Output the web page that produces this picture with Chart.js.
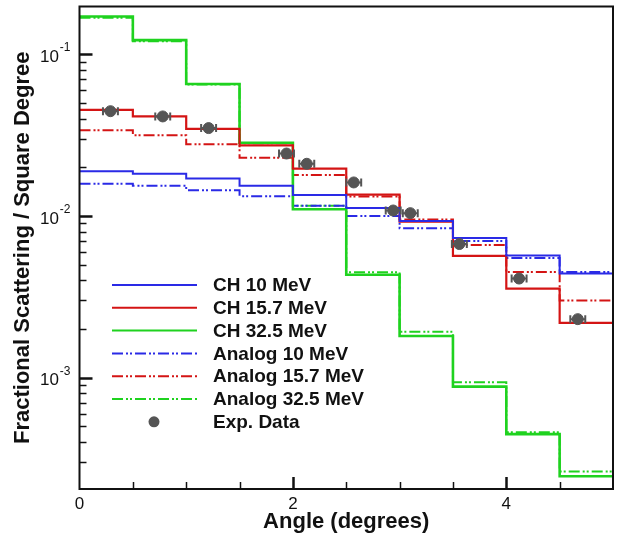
<!DOCTYPE html>
<html>
<head>
<meta charset="utf-8">
<script src="https://cdn.jsdelivr.net/npm/chart.js@4.4.0/dist/chart.umd.min.js"></script>
<style>
  html, body { margin: 0; padding: 0; background: #fff; }
  canvas { display: block; }
</style>
</head>
<body>
<canvas id="scatChart" width="623" height="537"></canvas>
<script>
// bin edges (degrees), values are per bin
var binEdges = [0, 0.5, 1, 1.5, 2, 2.5, 3, 3.5, 4, 4.5, 5];

var ch10   = [0.0189, 0.0182, 0.0170, 0.01535, 0.01345, 0.0112, 0.0093, 0.0073, 0.0057, 0.0044];
var ch157  = [0.0452, 0.0412, 0.0345, 0.0273, 0.0196, 0.01355, 0.0092, 0.00566, 0.00355, 0.00218];
var ch325  = [0.171, 0.122, 0.0654, 0.0283, 0.0110, 0.00433, 0.00181, 0.00088, 0.000448, 0.000246];
var an10   = [0.0158, 0.01535, 0.0144, 0.01325, 0.01156, 0.0100, 0.0084, 0.0070, 0.0055, 0.0045];
var an157  = [0.0338, 0.0315, 0.0277, 0.0229, 0.0179, 0.0132, 0.0095, 0.0066, 0.0045, 0.0030];
var an325  = [0.168, 0.120, 0.0648, 0.0281, 0.01156, 0.00449, 0.00192, 0.000937, 0.000459, 0.000263];

var expAngle = [0.29, 0.78, 1.21, 1.94, 2.13, 2.57, 2.94, 3.10, 3.56, 4.12, 4.67];
var expValue = [0.0444, 0.0412, 0.0349, 0.0243, 0.0210, 0.0161, 0.0108, 0.0104, 0.0067, 0.0041, 0.0023];
var expErr   = [0.07, 0.07, 0.07, 0.07, 0.07, 0.07, 0.07, 0.07, 0.07, 0.07, 0.07];

var xLabelled = [0, 2, 4];
var yMajor = [0.001, 0.01, 0.1];
var yMajorExp = ['-3', '-2', '-1'];

var BLUE = '#2a2ae6', RED = '#d41414', GREEN = '#1fd21f', GRAY = '#555555';
var DASHDOT = [11, 3, 2, 2, 2, 3];
var FONT = "'Liberation Sans', Arial, Helvetica, sans-serif";

Chart.defaults.font.family = FONT;
Chart.defaults.color = '#111';

function steps(vals) {
    var pts = [];
    for (var i = 0; i < vals.length; i++) pts.push({ x: binEdges[i], y: vals[i] });
    pts.push({ x: binEdges[vals.length], y: vals[vals.length - 1] });
    return pts;
}

function stepSet(label, vals, color, dashed, width) {
    return {
        label: label,
        data: steps(vals),
        showLine: true,
        stepped: 'before',
        borderColor: color,
        backgroundColor: color,
        borderWidth: width,
        borderDash: dashed ? DASHDOT : [],
        pointRadius: 0,
        fill: false
    };
}

var expPoints = expAngle.map(function (a, i) { return { x: a, y: expValue[i], err: expErr[i] }; });

// inward ticks, frame, y labels with superscripts
var frameTicks = {
    id: 'frameTicks',
    beforeDatasetDraw: function (chart, args) {
        var ds = chart.data.datasets[args.index];
        if (!ds.isExp) return;
        var ctx = chart.ctx, xs = chart.scales.x, ys = chart.scales.y;
        ctx.save();
        ctx.strokeStyle = GRAY;
        ctx.lineWidth = 2;
        ds.data.forEach(function (p) {
            var x1 = xs.getPixelForValue(p.x - p.err), x2 = xs.getPixelForValue(p.x + p.err);
            var y = ys.getPixelForValue(p.y);
            ctx.beginPath();
            ctx.moveTo(x1, y); ctx.lineTo(x2, y);
            ctx.moveTo(x1, y - 4); ctx.lineTo(x1, y + 4);
            ctx.moveTo(x2, y - 4); ctx.lineTo(x2, y + 4);
            ctx.stroke();
        });
        ctx.restore();
    },
    afterDatasetsDraw: function (chart) {
        var ctx = chart.ctx, a = chart.chartArea, xs = chart.scales.x, ys = chart.scales.y;
        ctx.save();
        ctx.strokeStyle = '#111';
        // y ticks
        ys.ticks.forEach(function (t) {
            var y = Math.round(ys.getPixelForValue(t.value)) + 0.5;
            if (y < a.top + 1 || y > a.bottom - 1) return;
            var major = yMajor.some(function (m) { return Math.abs(m - t.value) / m < 1e-6; });
            ctx.lineWidth = major ? 2.5 : 1.5;
            ctx.beginPath();
            ctx.moveTo(a.left, y);
            ctx.lineTo(a.left + (major ? 13 : 7), y);
            ctx.stroke();
        });
        // x ticks
        xs.ticks.forEach(function (t) {
            if (t.value <= xs.min || t.value >= xs.max) return;
            var x = Math.round(xs.getPixelForValue(t.value)) + 0.5;
            var major = xLabelled.indexOf(t.value) >= 0;
            ctx.lineWidth = major ? 2.5 : 1.5;
            ctx.beginPath();
            ctx.moveTo(x, a.bottom);
            ctx.lineTo(x, a.bottom - (major ? 12 : 7));
            ctx.stroke();
        });
        // frame
        ctx.lineWidth = 2;
        ctx.strokeRect(a.left, a.top, a.right - a.left, a.bottom - a.top);
        // y labels 10^n
        ctx.fillStyle = '#111';
        yMajor.forEach(function (v, i) {
            var y = ys.getPixelForValue(v);
            ctx.font = '12px ' + FONT;
            var sw = ctx.measureText(yMajorExp[i]).width;
            var right = a.left - 9;
            ctx.textAlign = 'left';
            ctx.textBaseline = 'middle';
            ctx.fillText(yMajorExp[i], right - sw, y - 6);
            ctx.font = '17px ' + FONT;
            ctx.textAlign = 'right';
            ctx.fillText('10', right - sw - 1, y + 3);
        });
        ctx.restore();
    }
};

// legend inside the plot, left side
var insideLegend = {
    id: 'insideLegend',
    afterDraw: function (chart) {
        var ctx = chart.ctx;
        var x0 = 112, x1 = 197, tx = 213, y0 = 285, dy = 22.8;
        ctx.save();
        ctx.font = 'bold 19px ' + FONT;
        ctx.textBaseline = 'middle';
        ctx.textAlign = 'left';
        chart.data.datasets.forEach(function (ds, i) {
            var y = y0 + i * dy;
            if (ds.isExp) {
                ctx.fillStyle = ds.backgroundColor;
                ctx.beginPath();
                ctx.arc((x0 + x1) / 2 - 0.5, y, 5.5, 0, Math.PI * 2);
                ctx.fill();
            } else {
                ctx.strokeStyle = ds.borderColor;
                ctx.lineWidth = 2;
                ctx.setLineDash(ds.borderDash);
                ctx.beginPath();
                ctx.moveTo(x0, y);
                ctx.lineTo(x1, y);
                ctx.stroke();
                ctx.setLineDash([]);
            }
            ctx.fillStyle = '#111';
            ctx.fillText(ds.label, tx, y + 1);
        });
        ctx.restore();
    }
};

var expSet = {
    label: 'Exp. Data',
    isExp: true,
    data: expPoints,
    showLine: false,
    pointRadius: 5.5,
    pointHoverRadius: 5.5,
    pointBackgroundColor: GRAY,
    pointBorderColor: GRAY,
    backgroundColor: GRAY,
    borderColor: GRAY,
    order: 0
};

var sets = [
    stepSet('CH 10 MeV', ch10, BLUE, false, 2),
    stepSet('CH 15.7 MeV', ch157, RED, false, 2.2),
    stepSet('CH 32.5 MeV', ch325, GREEN, false, 2.6),
    stepSet('Analog 10 MeV', an10, BLUE, true, 2),
    stepSet('Analog 15.7 MeV', an157, RED, true, 2),
    stepSet('Analog 32.5 MeV', an325, GREEN, true, 2),
    expSet
];
sets.forEach(function (s) { if (!s.isExp) s.order = 1; });

var ctx = document.getElementById('scatChart').getContext('2d');
var scatChart = new Chart(ctx, {
    type: 'scatter',
    data: { datasets: sets },
    plugins: [frameTicks, insideLegend],
    options: {
        responsive: false,
        animation: false,
        layout: { padding: { top: 4, right: 10, left: 0, bottom: 0 } },
        scales: {
            x: {
                type: 'linear',
                min: 0,
                max: 5,
                grid: { display: false, drawTicks: false },
                border: { display: false },
                ticks: {
                    stepSize: 0.5,
                    autoSkip: false,
                    maxRotation: 0,
                    padding: 5,
                    font: { size: 17 },
                    color: '#111',
                    callback: function (v) { return xLabelled.indexOf(v) >= 0 ? String(v) : ''; }
                },
                title: {
                    display: true,
                    text: 'Angle (degrees)',
                    font: { size: 22, weight: 'bold' },
                    color: '#111',
                    padding: { top: 0, bottom: 2 }
                },
                afterFit: function (scale) { scale.height = 48; }
            },
            y: {
                type: 'logarithmic',
                min: 0.000205,
                max: 0.197,
                grid: { display: false, drawTicks: false },
                border: { display: false },
                ticks: { display: false },
                afterBuildTicks: function (scale) {
                    var t = [];
                    [0.0001, 0.001, 0.01, 0.1].forEach(function (d) {
                        for (var k = 1; k <= 9; k++) {
                            var v = d * k;
                            if (v >= scale.min * 0.999 && v <= scale.max * 1.001) t.push({ value: v });
                        }
                    });
                    scale.ticks = t;
                },
                title: {
                    display: true,
                    text: 'Fractional Scattering / Square Degree',
                    font: { size: 22, weight: 'bold' },
                    color: '#111',
                    padding: { top: 10, bottom: 0 }
                },
                afterFit: function (scale) { scale.width = 79.5; }
            }
        },
        plugins: {
            legend: { display: false },
            tooltip: { enabled: false }
        }
    }
});
</script>
</body>
</html>
